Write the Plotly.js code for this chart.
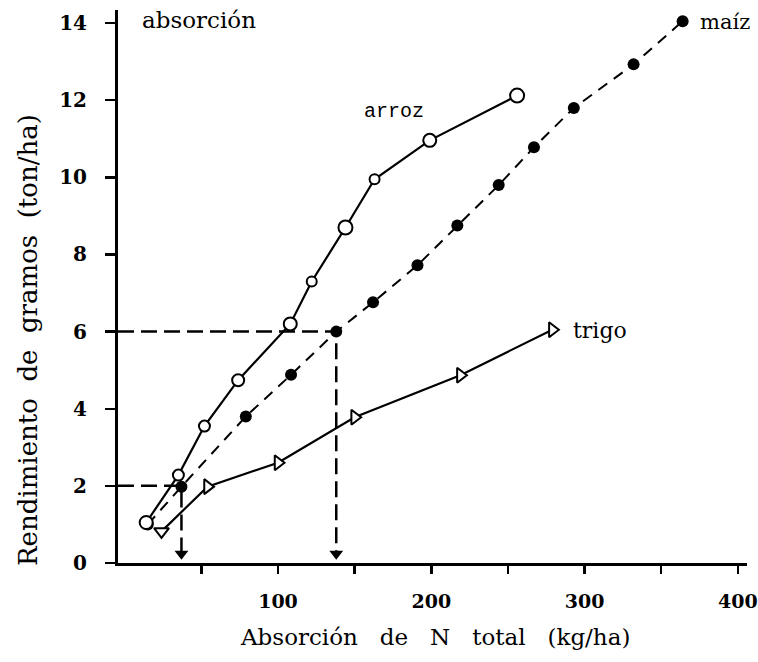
<!DOCTYPE html>
<html>
<head>
<meta charset="utf-8">
<script src="https://cdn.plot.ly/plotly-3.0.1.min.js"></script>
<style>html,body{margin:0;padding:0;background:#fff;}</style>
</head>
<body>
<div id="chart" style="width:758px;height:662px;"></div>
<script>
// Data
var arrozX = [14, 35, 52, 74, 108, 122, 144, 163, 199, 256];
var arrozY = [1.05, 2.28, 3.55, 4.74, 6.2, 7.3, 8.7, 9.95, 10.96, 12.12];

var maizX = [15, 37, 79, 108.5, 138, 162, 191, 217, 244, 267, 293, 332, 364];
var maizY = [1.0, 1.98, 3.8, 4.88, 6.0, 6.76, 7.72, 8.75, 9.8, 10.78, 11.8, 12.93, 14.05];

var trigoX = [24, 54, 100, 150, 219, 279];
var trigoY = [0.82, 1.98, 2.6, 3.78, 4.87, 6.05];

// reference guides (yield 2 and 6 t/ha)
var guideLowX = [-4.4, 37, 37];
var guideLowY = [2.0, 2.0, 0.3];
var guideHighX = [-4.4, 138, 138];
var guideHighY = [6.0, 6.0, 0.3];
var arrowX = [37, 138];
var arrowY = [0.24, 0.24];

var xTickVals = [50, 100, 150, 200, 250, 300, 350, 400];
var xTickText = ['', '100', '', '200', '', '300', '', '400'];
var yTickVals = [0, 2, 4, 6, 8, 10, 12, 14];
var yTickText = ['0', '2', '4', '6', '8', '10', '12', '14'];

var xTitle = 'Absorción de N total (kg/ha)';
var yTitle = 'Rendimiento de gramos (ton/ha)';

var SERIF = 'DejaVu Serif, Liberation Serif, serif';
var MONO = 'Liberation Mono, DejaVu Sans Mono, monospace';

var labels = [
  {text: 'absorción', x: 10, y: 14.08, size: 23, family: SERIF},
  {text: 'arroz', x: 154.5, y: 11.72, size: 20, family: MONO},
  {text: 'maíz', x: 374, y: 14.03, size: 21, family: SERIF},
  {text: 'trigo', x: 291, y: 6.03, size: 22, family: SERIF}
];

function spaced(s, n) {
  var gap = '';
  for (var i = 0; i < n; i++) gap += '\u00a0';
  return s.split(' ').join(gap);
}

var traces = [
  {x: guideLowX, y: guideLowY, mode: 'lines', line: {color: '#000', width: 2.5, dash: '16px,7px'}, hoverinfo: 'skip'},
  {x: guideHighX, y: guideHighY, mode: 'lines', line: {color: '#000', width: 2.5, dash: '16px,7px'}, hoverinfo: 'skip'},
  {x: arrowX, y: arrowY, mode: 'markers', marker: {symbol: 'triangle-down', size: 12, color: '#000', opacity: 1}, hoverinfo: 'skip'},
  {x: maizX, y: maizY, mode: 'lines+markers', name: 'maíz',
   line: {color: '#000', width: 2, dash: '11px,8px'},
   marker: {symbol: 'circle', size: 12, color: '#000', opacity: 1}},
  {x: trigoX, y: trigoY, mode: 'lines+markers', name: 'trigo',
   line: {color: '#000', width: 2.2},
   marker: {symbol: ['triangle-down', 'triangle-right', 'triangle-right', 'triangle-right', 'triangle-right', 'triangle-right'],
            size: 13, color: '#fff', opacity: 1, line: {color: '#000', width: 2}}},
  {x: arrozX, y: arrozY, mode: 'lines+markers', name: 'arroz',
   line: {color: '#000', width: 2.2},
   marker: {symbol: 'circle', size: [13, 11, 11, 12, 13, 10, 14, 10, 13, 14], color: '#fff', opacity: 1, line: {color: '#000', width: 2}}}
];

var annotations = labels.map(function (l) {
  return {text: l.text, x: l.x, y: l.y, xref: 'x', yref: 'y', xanchor: 'left', yanchor: 'middle',
          showarrow: false, font: {family: l.family, size: l.size, color: '#000'}};
});
annotations.push({text: spaced(xTitle, 3), xref: 'paper', yref: 'paper', x: (435 - 118) / 629, y: -(637 - 563) / 553,
  xanchor: 'center', yanchor: 'middle', showarrow: false, font: {family: SERIF, size: 23, color: '#000'}});
annotations.push({text: spaced(yTitle, 2), xref: 'paper', yref: 'paper', x: -(118 - 28) / 629, y: (563 - 340) / 553,
  xanchor: 'center', yanchor: 'middle', textangle: -90, showarrow: false, font: {family: SERIF, size: 26, color: '#000'}});

var layout = {
  width: 758, height: 662,
  margin: {l: 118, r: 11, t: 10, b: 99},
  paper_bgcolor: '#fff', plot_bgcolor: '#fff',
  showlegend: false,
  font: {family: SERIF, color: '#000'},
  xaxis: {
    range: [-4.4, 406],
    showgrid: false, zeroline: false,
    showline: true, linecolor: '#000', linewidth: 3,
    ticks: 'outside', ticklen: 8, tickwidth: 2.5, tickcolor: '#000',
    tickmode: 'array', tickvals: xTickVals, ticktext: xTickText,
    tickfont: {family: SERIF, size: 19, color: '#000', weight: 'bold'},
    ticklabelstandoff: 11
  },
  yaxis: {
    range: [0, 14.34],
    showgrid: false, zeroline: false,
    showline: true, linecolor: '#000', linewidth: 3,
    ticks: 'outside', ticklen: 10, tickwidth: 2.5, tickcolor: '#000',
    tickmode: 'array', tickvals: yTickVals, ticktext: yTickText,
    tickfont: {family: SERIF, size: 20, color: '#000', weight: 'bold'},
    ticklabelstandoff: 14
  },
  annotations: annotations
};

Plotly.newPlot('chart', traces, layout, {displayModeBar: false, staticPlot: true});
</script>
</body>
</html>
